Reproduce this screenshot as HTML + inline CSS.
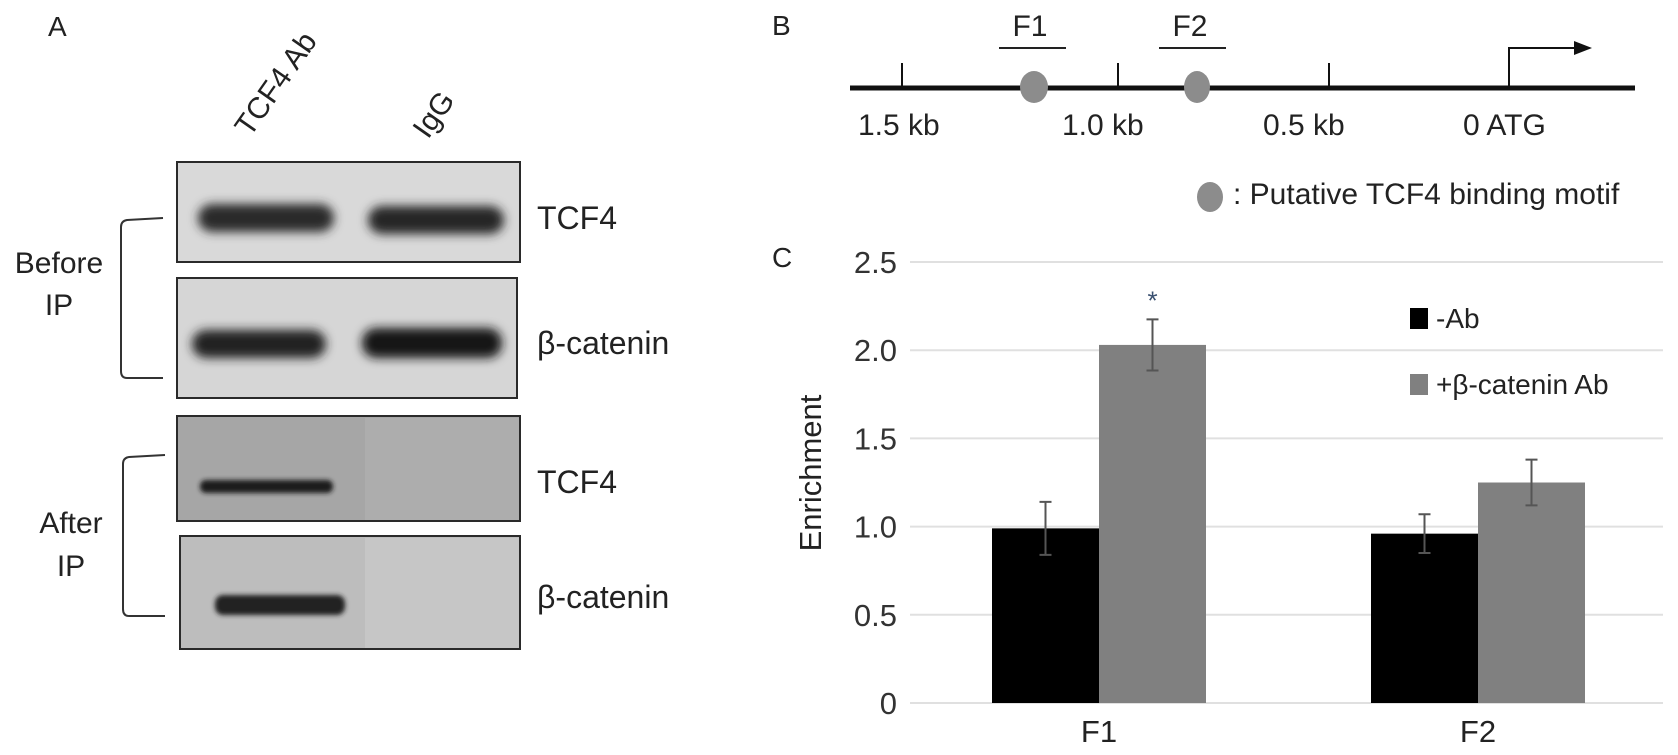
<!DOCTYPE html>
<html><head><meta charset="utf-8"><style>
body{margin:0;background:#fff;font-family:"Liberation Sans",sans-serif}
svg{display:block}
</style></head><body>
<svg width="1678" height="755" viewBox="0 0 1678 755" font-family="Liberation Sans, sans-serif">
<defs>
<filter id="blur" x="-20%" y="-100%" width="140%" height="300%"><feGaussianBlur stdDeviation="5"/></filter>
<filter id="blur2" x="-20%" y="-100%" width="140%" height="300%"><feGaussianBlur stdDeviation="2.5"/></filter>
</defs>
<!-- Panel A -->
<g>
<text x="48" y="36" font-size="28" fill="#222">A</text>
<g>
<rect x="177" y="162" width="343" height="100" fill="#d9d9d9" stroke="#2a2a2a" stroke-width="2"/>
<rect x="198" y="204" width="136" height="28" rx="14" fill="#2a2a2a" filter="url(#blur)"/>
<rect x="368" y="206" width="136" height="28" rx="14" fill="#252525" filter="url(#blur)"/>
</g>
<g>
<rect x="177" y="278" width="340" height="120" fill="#d6d6d6" stroke="#2a2a2a" stroke-width="2"/>
<rect x="192" y="330" width="134" height="28" rx="14" fill="#222" filter="url(#blur)"/>
<rect x="362" y="328" width="140" height="30" rx="14" fill="#141414" filter="url(#blur)"/>
</g>
<g>
<rect x="177" y="416" width="343" height="105" fill="#a6a6a6" stroke="#2a2a2a" stroke-width="2"/>
<rect x="365" y="418" width="154" height="102" fill="#adadad"/>
<rect x="200" y="480" width="133" height="13" rx="6" fill="#1a1a1a" filter="url(#blur2)"/>
</g>
<g>
<rect x="180" y="536" width="340" height="113" fill="#bdbdbd" stroke="#2a2a2a" stroke-width="2"/>
<rect x="365" y="538" width="154" height="110" fill="#c6c6c6"/>
<rect x="215" y="595" width="130" height="20" rx="8" fill="#222" filter="url(#blur2)"/>
</g>
<text transform="translate(250,138) rotate(-55)" font-size="30" fill="#222">TCF4 Ab</text>
<text transform="translate(428,140) rotate(-55)" font-size="30" fill="#222">IgG</text>
<g font-size="32" fill="#222">
<text x="537" y="229">TCF4</text>
<text x="537" y="354">β-catenin</text>
<text x="537" y="493">TCF4</text>
<text x="537" y="608">β-catenin</text>
</g>
<g font-size="30" fill="#222">
<text x="59" y="273" text-anchor="middle">Before</text>
<text x="59" y="315" text-anchor="middle">IP</text>
<text x="71" y="533" text-anchor="middle">After</text>
<text x="71" y="576" text-anchor="middle">IP</text>
</g>
<path d="M163,218 L127,220 Q121,221 121,227 L121,371 Q121,378 127,378 L163,378" fill="none" stroke="#333" stroke-width="2"/>
<path d="M165,455 L129,457 Q123,458 123,464 L123,609 Q123,616 129,616 L165,616" fill="none" stroke="#333" stroke-width="2"/>
</g>
<!-- Panel B -->
<g>
<text x="772" y="35" font-size="28" fill="#222">B</text>
<line x1="850" y1="88" x2="1635" y2="88" stroke="#111" stroke-width="5"/>
<g stroke="#111" stroke-width="2">
<line x1="902" y1="63" x2="902" y2="88"/><line x1="1118" y1="63" x2="1118" y2="88"/><line x1="1329" y1="63" x2="1329" y2="88"/>
</g>
<path d="M1509,88 L1509,48 L1578,48" fill="none" stroke="#111" stroke-width="2"/>
<path d="M1592,48 L1574,41 L1574,55 Z" fill="#111"/>
<ellipse cx="1034" cy="87" rx="14" ry="16" fill="#8c8c8c"/>
<ellipse cx="1197" cy="87" rx="13" ry="16" fill="#8c8c8c"/>
<line x1="999" y1="48" x2="1066" y2="48" stroke="#222" stroke-width="2"/>
<line x1="1159" y1="48" x2="1226" y2="48" stroke="#222" stroke-width="2"/>
<g font-size="30" fill="#222">
<text x="1030" y="36" text-anchor="middle">F1</text>
<text x="1190" y="36" text-anchor="middle">F2</text>
<text x="858" y="135">1.5 kb</text>
<text x="1062" y="135">1.0 kb</text>
<text x="1263" y="135">0.5 kb</text>
<text x="1463" y="135">0 ATG</text>
<text x="1233" y="204">: Putative TCF4 binding motif</text>
</g>
<ellipse cx="1210" cy="197" rx="13" ry="15" fill="#8c8c8c"/>
</g>
<!-- Panel C -->
<g id="chart">
<text x="772" y="267" font-size="28" fill="#222">C</text>
<text transform="translate(821,473) rotate(-90)" text-anchor="middle" font-size="31" fill="#222">Enrichment</text>
</g>
</svg>
<script>
const categories=["F1","F2"];
const seriesNames=["-Ab","+β-catenin Ab"];
const minusAb=[0.99,0.96];
const minusAbErr=[0.15,0.11];
const plusAb=[2.03,1.25];
const plusAbErr=[0.145,0.13];
const yTicks=[0,0.5,1.0,1.5,2.0,2.5];
const yTickLabels=["0","0.5","1.0","1.5","2.0","2.5"];
const ns="http://www.w3.org/2000/svg";
const g=document.getElementById('chart');
const y0=703,yTop=262,yMax=2.5;
function y(v){return y0-(v/yMax)*(y0-yTop);}
const catX0=1099,catStep=379;
function x(i){return catX0+i*catStep;}
function mk(t,a,p){const e=document.createElementNS(ns,t);for(const k in a)e.setAttribute(k,a[k]);(p||g).appendChild(e);return e;}
yTicks.forEach((v,i)=>{
 const l=mk('line',{x1:910,x2:1663,y1:y(v),y2:y(v),stroke:'#e0e0e0','stroke-width':2});
 
 
 const t=mk('text',{x:897,y:y(v)+11,'text-anchor':'end','font-size':31,fill:'#333'});
 t.textContent=yTickLabels[i];
 
 
});
const bw=107;
function bar(i,v,e,off,color,name){
 const r=mk('rect',{x:x(i)+off,y:y(v),width:bw,height:y0-y(v),fill:color});
 
 
 const cx=x(i)+off+bw/2;
 const eb=mk('path',{d:`M${cx},${y(v+e)}V${y(v-e)}M${cx-6},${y(v+e)}H${cx+6}M${cx-6},${y(v-e)}H${cx+6}`,stroke:'#555','stroke-width':2,fill:'none'});
 
 
}
categories.forEach((c,i)=>{
 bar(i,minusAb[i],minusAbErr[i],-bw,'#000','bar-minus-ab-'+c.toLowerCase());
 bar(i,plusAb[i],plusAbErr[i],0,'#808080','bar-plus-ab-'+c.toLowerCase());
 const t=mk('text',{x:x(i),y:742,'text-anchor':'middle','font-size':31,fill:'#222'});
 t.textContent=c;
 
 
});
const star=mk('text',{x:x(0)+bw/2,y:y(plusAb[0]+plusAbErr[0])-10,'text-anchor':'middle','font-size':26,fill:'#3a5070'});
star.textContent='*';


const legCol=['#000','#808080'];
seriesNames.forEach((s,i)=>{
 const yy=318+i*66;
 const r=mk('rect',{x:1410,y:yy-10,width:18,height:21,fill:legCol[i]});
 
 
 const t=mk('text',{x:1436,y:yy+10,'font-size':28,fill:'#222'});
 t.textContent=s;
 
 
});
</script>
</body></html>
